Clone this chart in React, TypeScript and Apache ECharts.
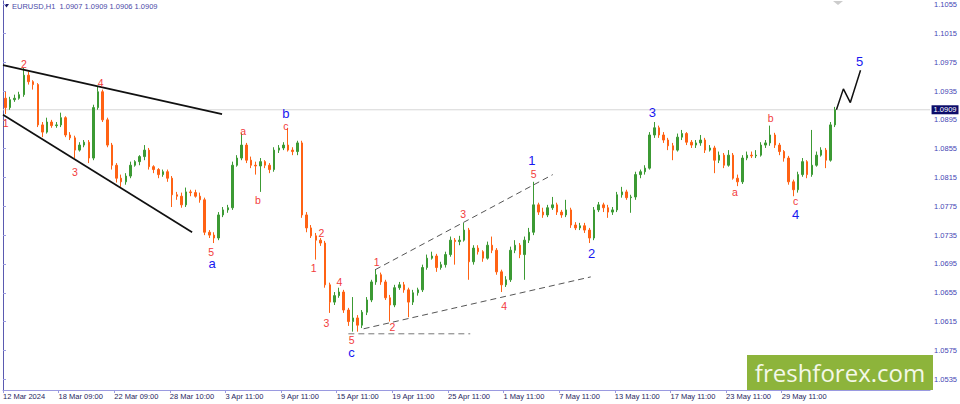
import React, { useEffect, useRef } from "react";
import * as echarts from "echarts";

// [open, close, low, high]
const candles: [number, number, number, number][] = [
  [1.0925, 1.0912, 1.0903, 1.0934], [1.0912, 1.0923, 1.0909, 1.0927], [1.0923, 1.0925, 1.092, 1.093], [1.0925, 1.093, 1.0923, 1.0934],
  [1.093, 1.0957, 1.0927, 1.0967], [1.0957, 1.0948, 1.0944, 1.0962], [1.0948, 1.0944, 1.0937, 1.095], [1.0944, 1.0888, 1.0885, 1.0946],
  [1.0888, 1.0878, 1.0871, 1.0892], [1.0878, 1.0892, 1.0876, 1.0898], [1.0892, 1.0887, 1.0884, 1.0895], [1.0887, 1.0888, 1.0884, 1.0892],
  [1.0888, 1.0898, 1.0885, 1.0905], [1.0898, 1.0874, 1.0871, 1.09], [1.0874, 1.087, 1.0867, 1.0878], [1.087, 1.0853, 1.0842, 1.0873],
  [1.0853, 1.086, 1.0851, 1.0864], [1.086, 1.0864, 1.0857, 1.0867], [1.0864, 1.0842, 1.0835, 1.0867], [1.0842, 1.0912, 1.0839, 1.0916],
  [1.0912, 1.0934, 1.0909, 1.0942], [1.0934, 1.0895, 1.0892, 1.0937], [1.0895, 1.086, 1.0857, 1.0898], [1.086, 1.0832, 1.0826, 1.0863],
  [1.0832, 1.0814, 1.0808, 1.0835], [1.0814, 1.0809, 1.0802, 1.0819], [1.0809, 1.0817, 1.0805, 1.0821], [1.0817, 1.0832, 1.0814, 1.0837],
  [1.0832, 1.0837, 1.083, 1.0839], [1.0837, 1.0844, 1.0832, 1.0846], [1.0844, 1.0853, 1.0839, 1.086], [1.0853, 1.083, 1.0826, 1.0856],
  [1.083, 1.0826, 1.0821, 1.0832], [1.0826, 1.0819, 1.0814, 1.0828], [1.0819, 1.0823, 1.0816, 1.0826], [1.0823, 1.0814, 1.0809, 1.0826],
  [1.0814, 1.0791, 1.0774, 1.0817], [1.0791, 1.0789, 1.0784, 1.0795], [1.0789, 1.0777, 1.0773, 1.0794], [1.0777, 1.0795, 1.0774, 1.0801],
  [1.0795, 1.0794, 1.0789, 1.0798], [1.0794, 1.0789, 1.0787, 1.0798], [1.0789, 1.0784, 1.078, 1.0794], [1.0784, 1.0739, 1.0735, 1.0787],
  [1.0739, 1.0735, 1.0731, 1.0742], [1.0735, 1.0731, 1.0724, 1.0739], [1.0731, 1.0763, 1.0728, 1.0767], [1.0763, 1.077, 1.076, 1.0774],
  [1.077, 1.0773, 1.0766, 1.0777], [1.0773, 1.0832, 1.077, 1.0837], [1.0832, 1.0842, 1.083, 1.0846], [1.0842, 1.086, 1.0839, 1.0877],
  [1.086, 1.0839, 1.0835, 1.0863], [1.0839, 1.0832, 1.0828, 1.0844], [1.0832, 1.0831, 1.0819, 1.0837], [1.0831, 1.0837, 1.0795, 1.0842],
  [1.0837, 1.0832, 1.0828, 1.0839], [1.0832, 1.0826, 1.0821, 1.0835], [1.0826, 1.0853, 1.0823, 1.0857], [1.0853, 1.0856, 1.0849, 1.086],
  [1.0856, 1.086, 1.0853, 1.0864], [1.086, 1.0853, 1.0851, 1.0884], [1.0853, 1.0851, 1.0846, 1.0857], [1.0851, 1.0863, 1.0846, 1.0866],
  [1.0863, 1.0763, 1.0759, 1.0866], [1.0763, 1.0745, 1.0739, 1.0767], [1.0745, 1.0734, 1.0731, 1.0749], [1.0734, 1.0728, 1.0701, 1.0738],
  [1.0728, 1.0724, 1.072, 1.0731], [1.0724, 1.0666, 1.0662, 1.0727], [1.0666, 1.0642, 1.0627, 1.0669], [1.0642, 1.0651, 1.0638, 1.0656],
  [1.0651, 1.0656, 1.0648, 1.0662], [1.0656, 1.0631, 1.0627, 1.0659], [1.0631, 1.0615, 1.0609, 1.0634], [1.0615, 1.062, 1.0601, 1.0649],
  [1.062, 1.061, 1.0601, 1.0624], [1.061, 1.0628, 1.0606, 1.0631], [1.0628, 1.0645, 1.0624, 1.0649], [1.0645, 1.067, 1.0642, 1.0673],
  [1.067, 1.068, 1.0666, 1.0688], [1.068, 1.067, 1.0666, 1.0683], [1.067, 1.0648, 1.0645, 1.0673], [1.0648, 1.0638, 1.0615, 1.0652],
  [1.0638, 1.0662, 1.0635, 1.0666], [1.0662, 1.0666, 1.0659, 1.067], [1.0666, 1.0659, 1.0655, 1.067], [1.0659, 1.0642, 1.0621, 1.0662],
  [1.0642, 1.0655, 1.0638, 1.0659], [1.0655, 1.0659, 1.0651, 1.0662], [1.0659, 1.069, 1.0656, 1.0694], [1.069, 1.0703, 1.0687, 1.0708],
  [1.0703, 1.0706, 1.0701, 1.0712], [1.0706, 1.069, 1.0684, 1.0709], [1.069, 1.0694, 1.0687, 1.0698], [1.0694, 1.0708, 1.069, 1.0712],
  [1.0708, 1.0728, 1.0705, 1.0733], [1.0728, 1.0726, 1.0694, 1.0731], [1.0726, 1.0728, 1.0721, 1.0734], [1.0728, 1.0742, 1.0726, 1.0752],
  [1.0742, 1.0698, 1.0673, 1.0745], [1.0698, 1.0717, 1.0694, 1.0721], [1.0717, 1.0712, 1.0708, 1.0721], [1.0712, 1.0703, 1.0698, 1.0714],
  [1.0703, 1.0721, 1.0701, 1.0726], [1.0721, 1.0714, 1.071, 1.0733], [1.0714, 1.0684, 1.068, 1.0717], [1.0684, 1.0666, 1.0656, 1.0687],
  [1.0666, 1.0673, 1.0663, 1.0678], [1.0673, 1.0714, 1.067, 1.0719], [1.0714, 1.0721, 1.071, 1.0728], [1.0721, 1.0708, 1.0703, 1.0724],
  [1.0708, 1.0728, 1.0673, 1.0733], [1.0728, 1.0739, 1.0724, 1.0745], [1.0739, 1.0777, 1.0735, 1.0809], [1.0777, 1.0767, 1.0763, 1.078],
  [1.0767, 1.0763, 1.0759, 1.0773], [1.0763, 1.0773, 1.076, 1.0777], [1.0773, 1.0777, 1.077, 1.0788], [1.0777, 1.0767, 1.0763, 1.078],
  [1.0767, 1.0763, 1.0759, 1.077], [1.0763, 1.077, 1.076, 1.0784], [1.077, 1.0749, 1.0745, 1.0773], [1.0749, 1.0745, 1.0742, 1.0753],
  [1.0745, 1.0748, 1.0742, 1.0752], [1.0748, 1.0742, 1.0738, 1.0752], [1.0742, 1.0731, 1.0724, 1.0745], [1.0731, 1.077, 1.0728, 1.0774],
  [1.077, 1.0777, 1.0767, 1.0781], [1.0777, 1.0773, 1.0767, 1.078], [1.0773, 1.0767, 1.0759, 1.0777], [1.0767, 1.077, 1.0763, 1.0774],
  [1.077, 1.0791, 1.0767, 1.0795], [1.0791, 1.0795, 1.0787, 1.0802], [1.0795, 1.0787, 1.0784, 1.0798], [1.0787, 1.0788, 1.0766, 1.0791],
  [1.0788, 1.0819, 1.0784, 1.0823], [1.0819, 1.0823, 1.0814, 1.0826], [1.0823, 1.0828, 1.0819, 1.0832], [1.0828, 1.0874, 1.0826, 1.0878],
  [1.0874, 1.0884, 1.087, 1.0892], [1.0884, 1.0874, 1.087, 1.0887], [1.0874, 1.0867, 1.0863, 1.0878], [1.0867, 1.0859, 1.0853, 1.087],
  [1.0859, 1.0853, 1.0839, 1.0863], [1.0853, 1.0871, 1.0851, 1.0876], [1.0871, 1.0876, 1.0867, 1.0881], [1.0876, 1.0864, 1.086, 1.0878],
  [1.0864, 1.086, 1.0856, 1.0867], [1.086, 1.0863, 1.0856, 1.0867], [1.0863, 1.0867, 1.0859, 1.0874], [1.0867, 1.0853, 1.0849, 1.087],
  [1.0853, 1.0856, 1.0851, 1.086], [1.0856, 1.0839, 1.0821, 1.0859], [1.0839, 1.0846, 1.0835, 1.0851], [1.0846, 1.0832, 1.0828, 1.0849],
  [1.0832, 1.0846, 1.083, 1.0853], [1.0846, 1.0814, 1.0812, 1.0849], [1.0814, 1.0809, 1.0803, 1.0819], [1.0809, 1.0842, 1.0806, 1.0846],
  [1.0842, 1.0846, 1.0839, 1.0851], [1.0846, 1.0845, 1.0842, 1.0851], [1.0845, 1.0846, 1.0842, 1.0853], [1.0846, 1.086, 1.0844, 1.0864],
  [1.086, 1.0863, 1.0856, 1.0867], [1.0863, 1.0874, 1.0859, 1.0887], [1.0874, 1.086, 1.0856, 1.0877], [1.086, 1.0851, 1.0846, 1.0863],
  [1.0851, 1.0842, 1.0837, 1.0853], [1.0842, 1.0809, 1.0805, 1.0845], [1.0809, 1.0798, 1.0789, 1.0812], [1.0798, 1.0819, 1.0794, 1.0823],
  [1.0819, 1.0837, 1.0816, 1.0842], [1.0837, 1.0819, 1.0814, 1.0839], [1.0819, 1.0832, 1.0816, 1.0881], [1.0832, 1.0846, 1.083, 1.0851],
  [1.0846, 1.0853, 1.0844, 1.0857], [1.0853, 1.0839, 1.0828, 1.0856], [1.0839, 1.0888, 1.0837, 1.0892], [1.0888, 1.0909, 1.0885, 1.0913],
];

const totalSlots = 200; // bars plus empty right shift
const barsPerTick = 12;
const xTickLabels = [
  "12 Mar 2024", "18 Mar 09:00", "22 Mar 09:00", "28 Mar 10:00", "3 Apr 11:00", "9 Apr 11:00", "15 Apr 11:00",
  "19 Apr 11:00", "25 Apr 11:00", "1 May 11:00", "7 May 11:00", "13 May 11:00", "17 May 11:00", "23 May 11:00", "29 May 11:00",
];
const yTicks = [1.0535, 1.0575, 1.0615, 1.0655, 1.0695, 1.0735, 1.0775, 1.0815, 1.0855, 1.0895, 1.0935, 1.0975, 1.1015, 1.1055];
const yMin = 1.052;
const yMax = 1.106;
const lastPrice = 1.0909;
const titleText = "EURUSD,H1  1.0907 1.0909 1.0906 1.0909";

// annotation geometry in data space: [bar position, price]
const wedgeUpper = [[0, 1.0971], [47.26, 1.0903]];
const wedgeLower = [[0, 1.0902], [40.8, 1.0739]];
const channelUpper = [[80.3, 1.0687], [118.6, 1.0819]];
const channelLower = [[77.8, 1.0605], [126.8, 1.0677]];
const baseLine = [[74.5, 1.0598], [100.8, 1.0598]];
const forecast = [[179.8, 1.0909], [181.3, 1.0938], [182.8, 1.0919], [185.0, 1.0964]];

const redLabels: [string, number, number][] = [
  ["1", 0.6, 1.0891], ["2", 4.5, 1.0972], ["3", 15.5, 1.0823], ["4", 21.05, 1.0946], ["5", 44.9, 1.0712],
  ["a", 51.8, 1.088], ["b", 55.0, 1.0784], ["c", 61.0, 1.0886],
  ["1", 67.0, 1.069], ["2", 68.7, 1.0738], ["3", 69.8, 1.0613], ["4", 72.6, 1.067], ["5", 75.2, 1.0589],
  ["1", 80.6, 1.0697], ["2", 84.0, 1.0608], ["3", 99.3, 1.0764], ["4", 108.1, 1.0636], ["5", 114.5, 1.082],
  ["a", 157.9, 1.0795], ["b", 165.6, 1.0897], ["c", 171.0, 1.0782],
];
const blueLabels: [string, number, number][] = [
  ["a", 45.1, 1.0695], ["b", 61.0, 1.0904], ["c", 75.2, 1.0572], ["1", 114.1, 1.0838],
  ["2", 127.0, 1.071], ["3", 140.1, 1.0905], ["4", 171.0, 1.0764], ["5", 184.8, 1.0976],
];

const AXIS_COLOR = "#9a9ae0";
const LABEL_FONT = "Liberation Sans";

function lineSeries(data: number[][], color: string, width: number, type: any = "solid", z = 5) {
  return {
    type: "line",
    xAxisIndex: 1,
    yAxisIndex: 0,
    data,
    symbol: "none",
    silent: true,
    lineStyle: { color, width, type },
    z,
  };
}

function labelSeries(items: [string, number, number][], color: string, size: number) {
  return {
    type: "scatter",
    xAxisIndex: 1,
    yAxisIndex: 0,
    symbolSize: 1,
    silent: true,
    z: 6,
    itemStyle: { opacity: 0 },
    emphasis: { disabled: true },
    data: items.map(([t, v, p]) => ({
      value: [v, p],
      label: {
        show: true,
        position: "inside",
        formatter: t,
        color,
        opacity: 1,
        fontSize: size,
        lineHeight: size,
        fontFamily: LABEL_FONT,
      },
    })),
  };
}

export default function App() {
  const ref = useRef<HTMLDivElement>(null);
  useEffect(() => {
    if (!ref.current) return;
    const chart = echarts.init(ref.current, null, { renderer: "svg" });
    const categories = Array.from({ length: totalSlots }, (_, i) => String(i));
    const tickPositions = xTickLabels.map((_, k) => k * barsPerTick);
    chart.setOption({
      animation: false,
      backgroundColor: "#ffffff",
      grid: { left: 1, right: 28, top: 1, bottom: 14, containLabel: false },
      xAxis: [
        {
          type: "category",
          data: categories,
          boundaryGap: true,
          show: false,
        },
        {
          type: "value",
          min: 0,
          max: totalSlots,
          position: "bottom",
          axisLine: { show: true, lineStyle: { color: AXIS_COLOR, width: 1 } },
          axisTick: { show: true, length: 3, customValues: tickPositions, lineStyle: { color: AXIS_COLOR } },
          axisLabel: {
            show: true,
            customValues: tickPositions,
            formatter: (v: number) => xTickLabels[Math.round(v / barsPerTick)] ?? "",
            align: "left",
            margin: 2,
            fontSize: 7.5,
            fontFamily: LABEL_FONT,
            color: "#26265e",
          },
          splitLine: { show: false },
        },
      ],
      yAxis: [
        {
          type: "value",
          position: "right",
          min: yMin,
          max: yMax,
          axisLine: { show: true, lineStyle: { color: AXIS_COLOR, width: 1 } },
          axisTick: { show: true, inside: false, length: 3, customValues: yTicks, lineStyle: { color: AXIS_COLOR } },
          axisLabel: {
            show: true,
            customValues: yTicks,
            formatter: (v: number) => v.toFixed(4),
            margin: 4,
            fontSize: 7.5,
            lineHeight: 8,
            fontFamily: LABEL_FONT,
            color: "#4646b4",
          },
          splitLine: { show: false },
        },
        {
          type: "value",
          position: "left",
          min: yMin,
          max: yMax,
          axisLine: { show: true, lineStyle: { color: "#5a5ab0", width: 1 } },
          axisTick: { show: false },
          axisLabel: { show: false },
          splitLine: { show: false },
        },
      ],
      series: [
        lineSeries([[0, lastPrice], [totalSlots, lastPrice]], "#d6d6d6", 1, "solid", 1),
        {
          type: "candlestick",
          xAxisIndex: 0,
          yAxisIndex: 0,
          data: candles,
          barWidth: 2,
          silent: true,
          z: 2,
          itemStyle: {
            color: "#3c9a34",
            color0: "#ff6214",
            borderColor: "#3c9a34",
            borderColor0: "#ff6214",
            borderWidth: 1,
          },
        },
        lineSeries(wedgeUpper, "#111111", 1.7),
        lineSeries(wedgeLower, "#111111", 1.7),
        lineSeries(channelUpper, "#555555", 1, [6, 4]),
        lineSeries(channelLower, "#555555", 1, [6, 4]),
        lineSeries(baseLine, "#777777", 1, [6, 4]),
        lineSeries(forecast, "#111111", 1.5),
        labelSeries(redLabels, "#f23c3c", 10.5),
        labelSeries(blueLabels, "#1818f0", 13),
        {
          type: "scatter",
          xAxisIndex: 1,
          yAxisIndex: 0,
          symbolSize: 1,
          silent: true,
          clip: false,
          z: 8,
          itemStyle: { opacity: 0 },
          emphasis: { disabled: true },
          data: [
            {
              value: [totalSlots, lastPrice],
              label: {
                show: true,
                position: "right",
                distance: 1,
                formatter: lastPrice.toFixed(4),
                backgroundColor: "#0c0c6a",
                color: "#ffffff",
                opacity: 1,
                fontSize: 7.5,
                lineHeight: 8,
                fontFamily: LABEL_FONT,
                padding: [1, 2, 0, 2],
              },
            },
          ],
        },
      ],
      graphic: [
        {
          type: "polygon",
          shape: { points: [[4, 4], [9, 4], [6.5, 7.5]] },
          style: { fill: "#1a1a6a" },
          silent: true,
        },
        {
          type: "text",
          left: 12,
          top: 2,
          style: { text: titleText, fontSize: 7.5, fontFamily: LABEL_FONT, fill: "#4a4aa8" },
          silent: true,
        },
        {
          type: "polygon",
          shape: { points: [[833, 1], [843, 1], [838, 5]] },
          style: { fill: "#cccccc" },
          silent: true,
        },
        {
          type: "rect",
          shape: { x: 747, y: 355, width: 186, height: 35 },
          style: { fill: "#8db43b" },
          silent: true,
          z: 10,
        },
        {
          type: "text",
          x: 840,
          y: 372,
          style: {
            text: "freshforex.com",
            fontSize: 24,
            fontFamily: "Open Sans",
            fill: "#f4f8e8",
            align: "center",
            verticalAlign: "middle",
          },
          silent: true,
          z: 11,
        },
      ],
    });
    return () => chart.dispose();
  }, []);
  return <div ref={ref} style={{ position: "fixed", left: 0, top: 0, width: 960, height: 404 }} />;
}
